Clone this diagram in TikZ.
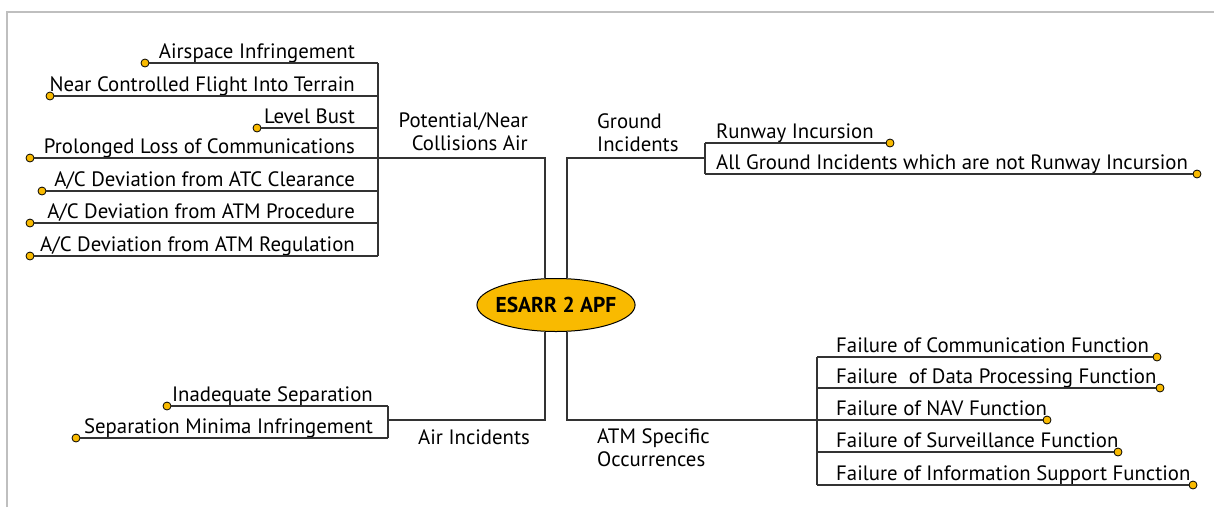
\documentclass[tikz,border=0pt]{standalone}
\usepackage{fontspec}
\setmainfont{PT Sans}
\usetikzlibrary{shapes,positioning,backgrounds}
\definecolor{apforange}{RGB}{249,186,0}

\begin{document}
\begin{tikzpicture}[x=1pt, y=-1pt,
    conn/.style={draw=black!80, line width=1.3pt},
    dot/.style={draw=black, fill=apforange, circle, inner sep=0pt, minimum size=8pt, line width=0.8pt},
    item/.style={inner sep=0pt, font=\fontsize{20.8}{23}\selectfont},
    branch/.style={inner sep=0pt, font=\fontsize{20.8}{23}\selectfont}]
    \useasboundingbox (0,0) rectangle (1214,507);
    \draw[black!25, line width=1.5pt] (7,507) -- (7,12) -- (1214,12);

    \node[draw, ellipse, fill=apforange, line width=1pt, minimum width=155pt, minimum height=53pt, inner xsep=-4.5pt, inner ysep=0pt, font=\fontsize{21.5}{23}\selectfont\bfseries] (root) at (556,305) {ESARR 2 APF};

    % Potential/Near Collisions Air
    \node[branch, anchor=north east, align=right] (pnc) at (528,112) {Potential/Near\\Collisions Air};
    \coordinate (pncturn) at (545,158);
    \coordinate (pncbrk) at (378,158);

    \node[dot] (airspace-o) at (145,63) {};
    \node[dot] (ncfit-o) at (50,96) {};
    \node[dot] (levelbust-o) at (257,128) {};
    \node[dot] (prolonged-o) at (30,158) {};
    \node[dot] (atcclear-o) at (42,191) {};
    \node[dot] (atmproc-o) at (30,223) {};
    \node[dot] (atmreg-o) at (30,256) {};

    \node[item, anchor=base east] (airspace) at (355,58) {Airspace Infringement};
    \node[item, anchor=base east] (ncfit) at (355,91) {Near Controlled Flight Into Terrain};
    \node[item, anchor=base east] (levelbust) at (355,123) {Level Bust};
    \node[item, anchor=base east] (prolonged) at (355,153) {Prolonged Loss of Communications};
    \node[item, anchor=base east] (atcclear) at (355,186) {A/C Deviation from ATC Clearance};
    \node[item, anchor=base east] (atmproc) at (355,218) {A/C Deviation from ATM Procedure};
    \node[item, anchor=base east] (atmreg) at (355,251) {A/C Deviation from ATM Regulation};

    \draw[conn] (airspace-o) -- (airspace-o -| pncbrk);
    \draw[conn] (ncfit-o) -- (ncfit-o -| pncbrk);
    \draw[conn] (levelbust-o) -- (levelbust-o -| pncbrk);
    \draw[conn] (atcclear-o) -- (atcclear-o -| pncbrk);
    \draw[conn] (atmproc-o) -- (atmproc-o -| pncbrk);
    \draw[conn] (atmreg-o) -- (atmreg-o -| pncbrk);
    \draw[conn] (airspace-o -| pncbrk) -- (atmreg-o -| pncbrk);
    \draw[conn] (prolonged-o) -- (pncturn) -- (pncturn |- root.north);

    % Ground Incidents
    \node[branch, anchor=north west, align=left] (ground) at (597,113) {Ground\\Incidents};
    \coordinate (gturn) at (567,158);
    \coordinate (gbrk) at (705,158);

    \node[dot] (runway-o) at (890,143) {};
    \node[dot] (allground-o) at (1197,174) {};
    \node[item, anchor=base west] (runway) at (716,138) {Runway Incursion};
    \node[item, anchor=base west] (allground) at (716,169) {All Ground Incidents which are not Runway Incursion};

    \draw[conn] (gturn |- root.north) -- (gturn) -- (gbrk);
    \draw[conn] (runway-o -| gbrk) -- (runway-o);
    \draw[conn] (allground-o -| gbrk) -- (allground-o);
    \draw[conn] (runway-o -| gbrk) -- (allground-o -| gbrk);

    % Air Incidents
    \node[branch, anchor=base west] (air) at (418,444) {Air Incidents};
    \coordinate (aturn) at (545,420);
    \coordinate (abrk) at (388,420);

    \node[dot] (inadequate-o) at (167,406) {};
    \node[dot] (minima-o) at (76,438) {};
    \node[item, anchor=base east] (inadequate) at (373,401) {Inadequate Separation};
    \node[item, anchor=base east] (minima) at (373,433) {Separation Minima Infringement};

    \draw[conn] (aturn |- root.south) -- (aturn) -- (abrk);
    \draw[conn] (inadequate-o) -- (inadequate-o -| abrk);
    \draw[conn] (minima-o) -- (minima-o -| abrk);
    \draw[conn] (inadequate-o -| abrk) -- (minima-o -| abrk);

    % ATM Specific Occurrences
    \node[branch, anchor=north west, align=left] (atm) at (597,428) {ATM Specific\\Occurrences};
    \coordinate (oturn) at (567,420);
    \coordinate (obrk) at (817,420);

    \node[dot] (comm-o) at (1157,357) {};
    \node[dot] (data-o) at (1160,388) {};
    \node[dot] (nav-o) at (1047,420) {};
    \node[dot] (surv-o) at (1118,452) {};
    \node[dot] (info-o) at (1193,485) {};
    \node[item, anchor=base west] (comm) at (836,352) {Failure of Communication Function};
    \node[item, anchor=base west] (data) at (836,383) {Failure\ \ of Data Processing Function};
    \node[item, anchor=base west] (nav) at (836,415) {Failure of NAV Function};
    \node[item, anchor=base west] (surv) at (836,447) {Failure of Surveillance Function};
    \node[item, anchor=base west] (info) at (836,480) {Failure of Information Support Function};

    \draw[conn] (oturn |- root.south) -- (oturn) -- (obrk);
    \draw[conn] (comm-o -| obrk) -- (comm-o);
    \draw[conn] (data-o -| obrk) -- (data-o);
    \draw[conn] (obrk) -- (nav-o);
    \draw[conn] (surv-o -| obrk) -- (surv-o);
    \draw[conn] (info-o -| obrk) -- (info-o);
    \draw[conn] (comm-o -| obrk) -- (info-o -| obrk);
\end{tikzpicture}
\end{document}
